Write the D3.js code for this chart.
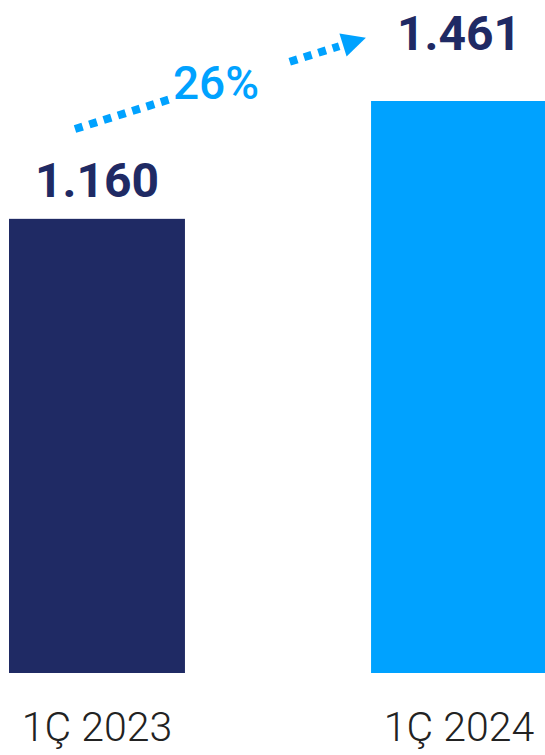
<!DOCTYPE html>
<html>
<head>
<meta charset="utf-8">
<script src="https://cdn.jsdelivr.net/npm/d3@7"></script>
<style>
  html, body { margin: 0; padding: 0; background: #fff; }
  svg { display: block; }
  text { font-family: Roboto, "Noto Sans", sans-serif; }
</style>
</head>
<body>
<svg id="chart" width="545" height="755"></svg>
<script>
// Quarterly totals, Q1 2023 vs Q1 2024
const categories = ["1Ç 2023", "1Ç 2024"];
const values = [1160, 1461];
const barColors = ["#1f2a64", "#00a2ff"];

const navy = "#1f2a64";
const accent = "#00a2ff";

const svg = d3.select("#chart");

// Turkish number style: dot as thousands separator
const tr = d3.formatLocale({ decimal: ",", thousands: ".", grouping: [3], currency: ["₺", ""] });
const fmt = tr.format(",d");

const x = d3.scaleBand()
  .domain(categories)
  .range([9, 547])
  .paddingInner(0.514)
  .paddingOuter(0);

const y = d3.scaleLinear()
  .domain([0, d3.max(values)])
  .range([673, 101]);

const data = categories.map((c, i) => ({ cat: c, value: values[i], color: barColors[i] }));

// Bars
svg.append("g")
  .selectAll("rect")
  .data(data)
  .join("rect")
  .attr("x", d => x(d.cat))
  .attr("y", d => y(d.value))
  .attr("width", x.bandwidth())
  .attr("height", d => y(0) - y(d.value))
  .attr("fill", d => d.color);

// Value labels above bars
const labelGap = [22, 51];
svg.append("g")
  .selectAll("text")
  .data(data)
  .join("text")
  .attr("x", d => x(d.cat) + x.bandwidth() / 2)
  .attr("y", (d, i) => y(d.value) - labelGap[i])
  .attr("text-anchor", "middle")
  .attr("font-size", 48)
  .attr("font-weight", 700)
  .attr("fill", navy)
  .text(d => fmt(d.value));

// Category labels
svg.append("g")
  .selectAll("text")
  .data(data)
  .join("text")
  .attr("x", d => x(d.cat) + x.bandwidth() / 2)
  .attr("y", 741)
  .attr("text-anchor", "middle")
  .attr("font-size", 41)
  .attr("font-weight", 300)
  .attr("fill", "#222222")
  .text(d => d.cat);

// Growth arrow (dotted) with percentage badge
const growth = values[1] / values[0] - 1;
const start = [75, 129];
const end = [343, 45];
const ang = Math.atan2(end[1] - start[1], end[0] - start[0]);

const arrow = svg.append("g");
arrow.append("line")
  .attr("x1", start[0]).attr("y1", start[1])
  .attr("x2", end[0] - 4 * Math.cos(ang)).attr("y2", end[1] - 4 * Math.sin(ang))
  .attr("stroke", accent)
  .attr("stroke-width", 8)
  .attr("stroke-dasharray", "8,7");

// arrowhead
const headLen = 24, headHalf = 12;
const tip = [end[0] + headLen * Math.cos(ang), end[1] + headLen * Math.sin(ang)];
const b1 = [end[0] + headHalf * Math.sin(ang), end[1] - headHalf * Math.cos(ang)];
const b2 = [end[0] - headHalf * Math.sin(ang), end[1] + headHalf * Math.cos(ang)];
arrow.append("path")
  .attr("d", d3.line()([tip, b1, b2]) + "Z")
  .attr("fill", accent);

// white backing behind the percentage
arrow.append("rect")
  .attr("x", 169).attr("y", 58)
  .attr("width", 116).attr("height", 44)
  .attr("fill", "#fff");

arrow.append("text")
  .attr("x", 216)
  .attr("y", 99)
  .attr("text-anchor", "middle")
  .attr("font-size", 46)
  .attr("font-weight", 500)
  .attr("fill", accent)
  .text(d3.format(".0%")(growth));
</script>
</body>
</html>
